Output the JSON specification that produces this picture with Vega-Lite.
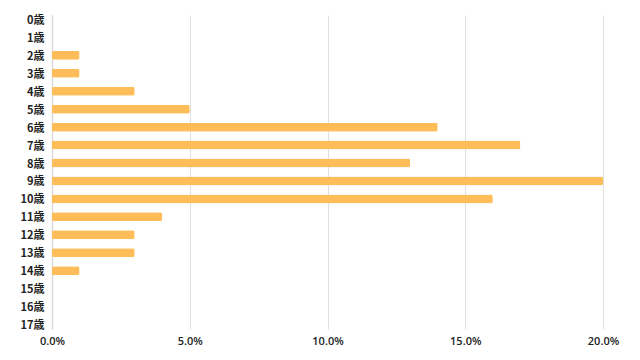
{
  "$schema": "https://vega.github.io/schema/vega-lite/v6.json",
  "autosize": {"type": "none"},
  "padding": {"left": 52, "top": 15, "right": 37, "bottom": 31},
  "width": 551,
  "height": 314,
  "background": "#ffffff",
  "config": {
    "view": {"stroke": null},
    "font": "Open Sans"
  },
  "data": {
    "values": [
      {"age": "0歳", "share": 0},
      {"age": "1歳", "share": 0},
      {"age": "2歳", "share": 0.01},
      {"age": "3歳", "share": 0.01},
      {"age": "4歳", "share": 0.03},
      {"age": "5歳", "share": 0.05},
      {"age": "6歳", "share": 0.14},
      {"age": "7歳", "share": 0.17},
      {"age": "8歳", "share": 0.13},
      {"age": "9歳", "share": 0.20},
      {"age": "10歳", "share": 0.16},
      {"age": "11歳", "share": 0.04},
      {"age": "12歳", "share": 0.03},
      {"age": "13歳", "share": 0.03},
      {"age": "14歳", "share": 0.01},
      {"age": "15歳", "share": 0},
      {"age": "16歳", "share": 0},
      {"age": "17歳", "share": 0}
    ]
  },
  "mark": {"type": "bar", "color": "#FFBD59", "cornerRadius": 2},
  "encoding": {
    "y": {
      "field": "age",
      "type": "nominal",
      "sort": null,
      "scale": {"paddingInner": 0.5, "paddingOuter": 0},
      "axis": {
        "title": null,
        "ticks": false,
        "domain": true,
        "domainColor": "#d9d9d9",
        "domainWidth": 1.5,
        "labelPadding": 8,
        "labelOffset": 1.5,
        "labelFontSize": 11,
        "labelFontWeight": 600,
        "labelColor": "#222222",
        "labelFont": "Noto Sans CJK JP",
        "grid": false
      }
    },
    "x": {
      "field": "share",
      "type": "quantitative",
      "scale": {"domain": [0, 0.2], "nice": false},
      "axis": {
        "title": null,
        "format": ".1%",
        "values": [0, 0.05, 0.1, 0.15, 0.2],
        "ticks": false,
        "domain": false,
        "grid": true,
        "gridColor": "#e0e0e0",
        "labelFlush": false,
        "labelPadding": 6,
        "labelFontSize": 11,
        "labelFontWeight": 600,
        "labelColor": "#222222",
        "labelFont": "Open Sans"
      }
    }
  }
}
